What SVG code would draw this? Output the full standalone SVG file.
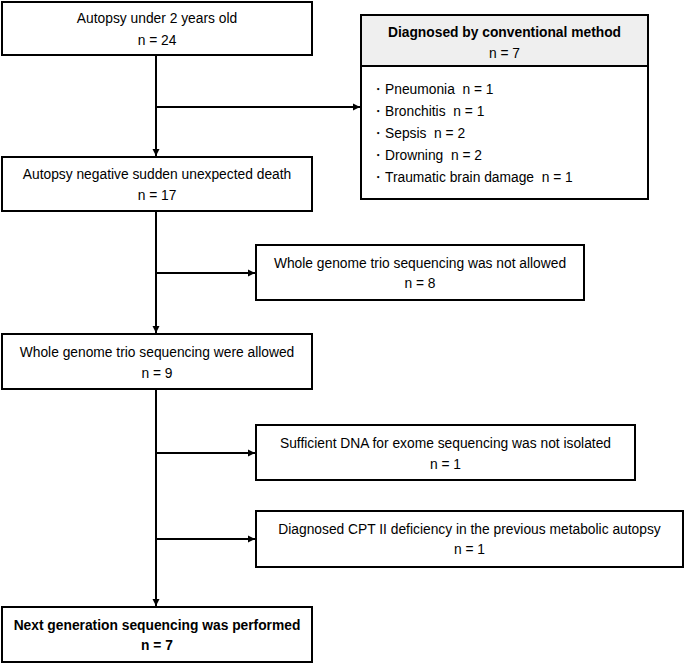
<svg xmlns="http://www.w3.org/2000/svg" width="685" height="663" viewBox="0 0 685 663">
<defs>
<marker id="ah" markerWidth="8" markerHeight="8" refX="7" refY="4" orient="auto" markerUnits="userSpaceOnUse">
<path d="M0,0.5 L7,4 L0,7.5 Z" fill="#000"/>
</marker>
<style>
.box{fill:#fff;stroke:#000;stroke-width:2}
.t{font-family:"Liberation Sans",Arial,sans-serif;font-size:13.8px;fill:#000;text-anchor:middle;white-space:pre}
.b{font-weight:bold}
.l{text-anchor:start}
.c{fill:none;stroke:#000;stroke-width:2}
</style>
</defs>
<rect width="685" height="663" fill="#fff"/>
<g id="connectors">
<path class="c" d="M156,55 V156" marker-end="url(#ah)"/>
<path class="c" d="M156,107 H360" marker-end="url(#ah)"/>
<path class="c" d="M156,211 V333" marker-end="url(#ah)"/>
<path class="c" d="M156,273 H255" marker-end="url(#ah)"/>
<path class="c" d="M156,389 V606" marker-end="url(#ah)"/>
<path class="c" d="M156,453 H255" marker-end="url(#ah)"/>
<path class="c" d="M156,539 H255" marker-end="url(#ah)"/>
</g>
<g id="n1">
<rect class="box" x="2" y="2" width="310" height="53"/>
<text class="t" x="157" y="23">Autopsy under 2 years old</text>
<text class="t" x="157" y="45">n = 24</text>
</g>
<g id="n2">
<rect class="box" x="361" y="15" width="287" height="184"/>
<rect x="361" y="15" width="287" height="51" fill="#efefef" stroke="#000" stroke-width="2"/>
<text class="t b" x="504.5" y="37">Diagnosed by conventional method</text>
<text class="t" x="504.5" y="58">n = 7</text>
<text class="t l" x="371" y="94">・Pneumonia  n = 1</text>
<text class="t l" x="371" y="116">・Bronchitis  n = 1</text>
<text class="t l" x="371" y="138">・Sepsis  n = 2</text>
<text class="t l" x="371" y="160">・Drowning  n = 2</text>
<text class="t l" x="371" y="182">・Traumatic brain damage  n = 1</text>
</g>
<g id="n3">
<rect class="box" x="2" y="157" width="310" height="54"/>
<text class="t" x="157" y="179">Autopsy negative sudden unexpected death</text>
<text class="t" x="157" y="200">n = 17</text>
</g>
<g id="n4">
<rect class="box" x="256" y="245" width="328" height="55"/>
<text class="t" x="420" y="268">Whole genome trio sequencing was not allowed</text>
<text class="t" x="420" y="288">n = 8</text>
</g>
<g id="n5">
<rect class="box" x="2" y="334" width="310" height="55"/>
<text class="t" x="157" y="357">Whole genome trio sequencing were allowed</text>
<text class="t" x="157" y="378">n = 9</text>
</g>
<g id="n6">
<rect class="box" x="256" y="425" width="379" height="55"/>
<text class="t" x="445.5" y="448">Sufficient DNA for exome sequencing was not isolated</text>
<text class="t" x="445.5" y="469">n = 1</text>
</g>
<g id="n7">
<rect class="box" x="256" y="511" width="427" height="56"/>
<text class="t" x="469.5" y="534">Diagnosed CPT II deficiency in the previous metabolic autopsy</text>
<text class="t" x="469.5" y="554">n = 1</text>
</g>
<g id="n8">
<rect class="box" x="2" y="607" width="310" height="55"/>
<text class="t b" x="157" y="630">Next generation sequencing was performed</text>
<text class="t b" x="157" y="650">n = 7</text>
</g>
</svg>
